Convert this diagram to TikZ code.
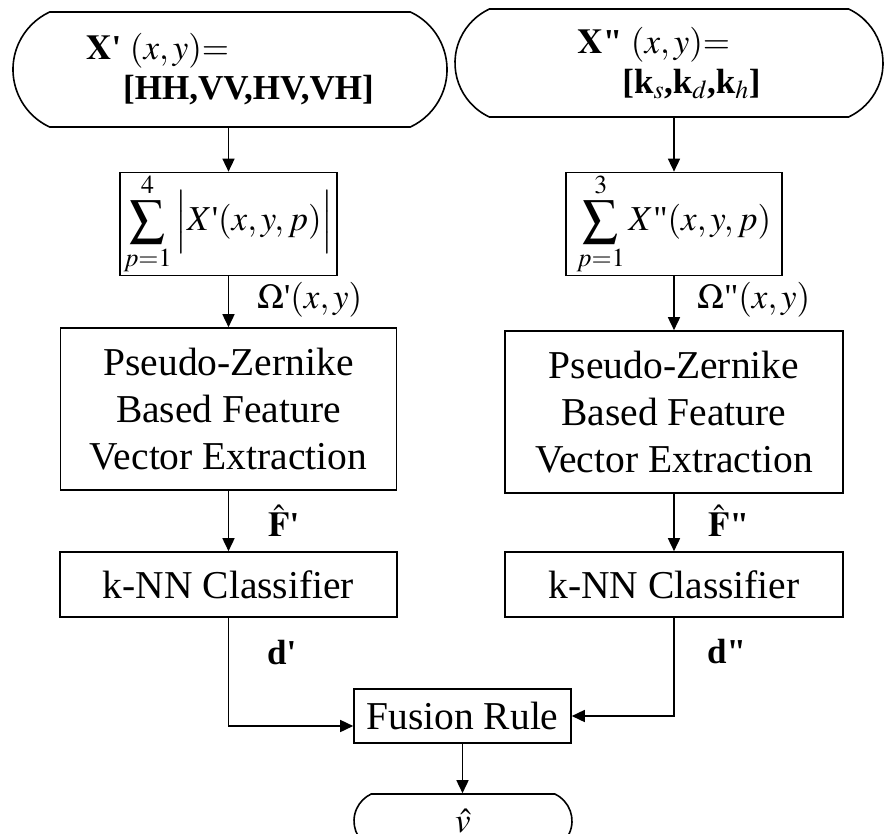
\documentclass[tikz,border=0pt]{standalone}
\usepackage{mathptmx}
\usepackage{fontspec}
\setmainfont{Liberation Serif}
\usetikzlibrary{arrows.meta,shapes.misc}
\begin{document}
\begin{tikzpicture}[x=1pt,y=-1pt,
 box/.style={draw,line width=1.6pt,inner sep=0pt,align=center,font=\fontsize{39.5}{47}\selectfont},
 mbox/.style={draw,line width=1.6pt,inner sep=0pt,font=\fontsize{35}{40}\selectfont},
 term/.style={draw,line width=1.6pt,rounded rectangle,rounded rectangle arc length=130,inner sep=0pt,align=left,font=\fontsize{35}{40}\selectfont},
 arr/.style={line width=1.6pt,-{Triangle[length=13pt,width=12pt]}},
 lbl/.style={anchor=west,inner sep=0pt,font=\fontsize{35}{40}\selectfont}]
\useasboundingbox (0,0) rectangle (885,834);
% terminals
\node[term, minimum width=434pt, minimum height=115pt] (tL) at (230,69.5)
  {$\mathbf{X}\mbox{\textbf{\textquotesingle}}\ (x,y){=}$\\\hspace*{37pt}\textbf{[HH,VV,HV,VH]}};
\node[term, minimum width=428pt, minimum height=108pt] (tR) at (669,63)
  {$\mathbf{X}\mbox{\textbf{\textquotedbl}}\ (x,y){=}$\\\hspace*{45pt}\textbf{[k}$_s$\textbf{,k}$_d$\textbf{,k}$_h$\textbf{]}};
% sum boxes
\node[mbox, minimum width=217pt, minimum height=98pt] (sumL) at (228.5,224)
  {$\displaystyle\sum_{p=1}^{4}\Big|X\mbox{\textquotesingle}(x,y,p)\Big|$};
\node[mbox, minimum width=216pt, minimum height=98pt] (sumR) at (674,224)
  {$\displaystyle\sum_{p=1}^{3}X\mbox{\textquotedbl}(x,y,p)$};
% PZ boxes
\node[box, minimum width=336pt, minimum height=162pt] (pzL) at (228.5,409)
  {Pseudo-Zernike\\Based Feature\\Vector Extraction};
\node[box, minimum width=338pt, minimum height=162pt] (pzR) at (674,412)
  {Pseudo-Zernike\\Based Feature\\Vector Extraction};
% kNN
\node[box, minimum width=337pt, minimum height=65pt] (knnL) at (228.5,584.5) {k-NN Classifier};
\node[box, minimum width=338pt, minimum height=65pt] (knnR) at (674,584.5) {k-NN Classifier};
% fusion and output
\node[box, minimum width=217pt, minimum height=54pt] (fu) at (462.5,716) {Fusion Rule};
\node[term, align=center, minimum width=218pt, minimum height=54pt] (out) at (463,821) {$\hat{v}$};
% labels
\node[lbl] (oL) at (257,300) {$\Omega\mbox{\textquotesingle}(x,y)$};
\node[lbl] (oR) at (697,300) {$\Omega\mbox{\textquotedbl}(x,y)$};
\node[lbl] (fL) at (268,521) {$\hat{\mathbf{F}}$\textbf{\textquotesingle}};
\node[lbl] (fR) at (708,521) {$\hat{\mathbf{F}}$\textbf{\textquotedbl}};
\node[lbl] (dL) at (267,653) {\textbf{d\textquotesingle}};
\node[lbl] (dR) at (707,652) {\textbf{d\textquotedbl}};
% arrows
\draw[arr] (sumL.north |- tL.south) -- (sumL.north);
\draw[arr] (sumL.south) -- (sumL.south |- pzL.north);
\draw[arr] (pzL.south) -- (pzL.south |- knnL.north);
\draw[arr] (knnL.south) |- ([yshift=-10pt]fu.west);
\draw[arr] (sumR.north |- tR.south) -- (sumR.north);
\draw[arr] (sumR.south) -- (sumR.south |- pzR.north);
\draw[arr] (pzR.south) -- (pzR.south |- knnR.north);
\draw[arr] (knnR.south) |- (fu.east);
\draw[arr] (fu.south) -- (fu.south |- out.north);
\end{tikzpicture}
\end{document}
